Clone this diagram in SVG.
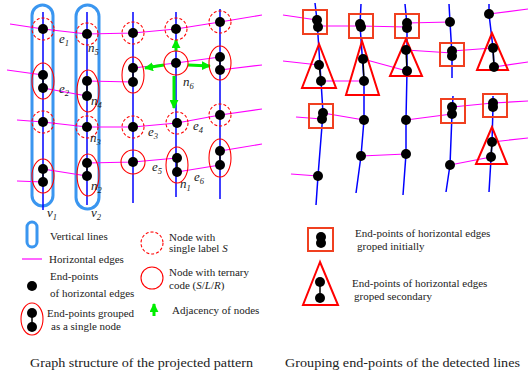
<svg xmlns="http://www.w3.org/2000/svg" width="528" height="373" viewBox="0 0 528 373">
<defs>
<style>
.vl{stroke:#0000ff;stroke-width:1.5;fill:none}
.cap{stroke:#3a96f0;stroke-width:3;fill:none}
.he{stroke:#ff00ff;stroke-width:1.2;fill:none}
.dot{fill:#000}
.lk{stroke:#000;stroke-width:1.5}
.ds{stroke:#ff0000;stroke-width:1.1;fill:none;stroke-dasharray:3,2}
.so{stroke:#ff0000;stroke-width:1.1;fill:none}
.sq{stroke:#f04020;stroke-width:2;fill:none}
.tr{stroke:#ff0000;stroke-width:2;fill:none}
.ga{stroke:#00ee00;stroke-width:3;fill:none}
.lb{font-family:"Liberation Serif",serif;font-style:italic;font-size:13px;fill:#222}
.sb{font-size:8.5px}
.tx{font-family:"Liberation Serif",serif;font-size:11px;fill:#222}
.cp{font-family:"Liberation Serif",serif;font-size:13px;fill:#222}
</style>
<marker id="ah" viewBox="0 0 10 10" refX="9" refY="5" markerWidth="3" markerHeight="3" orient="auto" markerUnits="strokeWidth">
<path d="M0,0 L10,5 L0,10 z" fill="#00ee00"/>
</marker>
</defs>

<!-- Left panel -->
<g id="vertical-lines">
<rect class="cap" x="32" y="5" width="21" height="201" rx="10.5"/>
<rect class="cap" x="76" y="5" width="23" height="204" rx="11.5"/>
<line class="vl" x1="43" y1="12" x2="43" y2="210"/>
<line class="vl" x1="87" y1="12" x2="87" y2="205"/>
<line class="vl" x1="133" y1="12" x2="133" y2="203"/>
<line class="vl" x1="176" y1="12" x2="176" y2="197"/>
<line class="vl" x1="220" y1="9" x2="220" y2="199"/>
</g>

<g id="connectors">
<polyline class="he" points="10,24 43,29 87,34 133,33 176,29 220,22 262,15"/>
<line class="he" x1="7" y1="70" x2="43" y2="75"/>
<line class="he" x1="43" y1="88" x2="87" y2="96"/>
<line class="he" x1="87" y1="81" x2="133" y2="82"/>
<polyline class="he" points="133,68 176,63 220,57"/>
<line class="he" x1="220" y1="70" x2="262" y2="65"/>
<polyline class="he" points="17,120 43,122 87,127 133,127 177,123 220,115 262,109"/>
<line class="he" x1="17" y1="181" x2="43" y2="182"/>
<line class="he" x1="43" y1="169" x2="87" y2="176"/>
<polyline class="he" points="87,163 133,162 177,158"/>
<line class="he" x1="177" y1="172" x2="220" y2="165"/>
<line class="he" x1="220" y1="151" x2="262" y2="144"/>
<line class="ga" x1="176" y1="51" x2="176" y2="40" marker-end="url(#ah)"/>
<line class="ga" x1="164" y1="65" x2="145" y2="68" marker-end="url(#ah)"/>
<line class="ga" x1="188" y1="65" x2="210" y2="66" marker-end="url(#ah)"/>
<line class="ga" x1="174" y1="76" x2="174" y2="108" marker-end="url(#ah)"/>
</g>

<g id="node-c1r1"><circle class="ds" cx="43" cy="29" r="11"/><circle class="dot" cx="43" cy="29" r="5"/></g>
<g id="node-c1r2"><ellipse class="so" cx="43" cy="81" rx="11" ry="18"/><line class="lk" x1="43" y1="75" x2="43" y2="88"/><circle class="dot" cx="43" cy="75" r="5"/><circle class="dot" cx="43" cy="88" r="5"/></g>
<g id="node-c1r3"><circle class="ds" cx="43" cy="122" r="11"/><circle class="dot" cx="43" cy="122" r="5"/></g>
<g id="node-c1r4"><ellipse class="so" cx="43" cy="176" rx="11" ry="17"/><line class="lk" x1="43" y1="169" x2="43" y2="182"/><circle class="dot" cx="43" cy="169" r="5"/><circle class="dot" cx="43" cy="182" r="5"/></g>

<g id="node-n5"><circle class="ds" cx="87" cy="34" r="11"/><circle class="dot" cx="87" cy="34" r="5"/></g>
<g id="node-n4"><ellipse class="so" cx="88" cy="91" rx="11" ry="21"/><line class="lk" x1="87" y1="81" x2="87" y2="96"/><circle class="dot" cx="87" cy="81" r="5"/><circle class="dot" cx="87" cy="96" r="5"/></g>
<g id="node-n3"><circle class="ds" cx="87" cy="127" r="11"/><circle class="dot" cx="87" cy="127" r="5"/></g>
<g id="node-n2"><ellipse class="so" cx="88" cy="175" rx="11" ry="21"/><line class="lk" x1="87" y1="163" x2="87" y2="176"/><circle class="dot" cx="87" cy="163" r="5"/><circle class="dot" cx="87" cy="176" r="5"/></g>

<g id="node-c3r1"><circle class="ds" cx="133" cy="33" r="11"/><circle class="dot" cx="133" cy="33" r="5"/></g>
<g id="node-c3r2"><ellipse class="so" cx="133" cy="75" rx="11" ry="18"/><line class="lk" x1="133" y1="68" x2="133" y2="82"/><circle class="dot" cx="133" cy="68" r="5"/><circle class="dot" cx="133" cy="82" r="5"/></g>
<g id="node-c3r3"><circle class="ds" cx="133" cy="127" r="11"/><circle class="dot" cx="133" cy="127" r="5"/></g>
<g id="node-c3r4"><circle class="so" cx="133" cy="162" r="12"/><circle class="dot" cx="133" cy="162" r="5"/></g>

<g id="node-c4r1"><circle class="ds" cx="176" cy="29" r="11"/><circle class="dot" cx="176" cy="29" r="5"/></g>
<g id="node-n6"><circle class="so" cx="176" cy="63" r="12"/><circle class="dot" cx="176" cy="63" r="5"/></g>
<g id="node-c4r3"><circle class="ds" cx="177" cy="123" r="11"/><circle class="dot" cx="177" cy="123" r="5"/></g>
<g id="node-n1"><ellipse class="so" cx="177" cy="165" rx="11" ry="18"/><line class="lk" x1="177" y1="158" x2="177" y2="172"/><circle class="dot" cx="177" cy="158" r="5"/><circle class="dot" cx="177" cy="172" r="5"/></g>

<g id="node-c5r1"><circle class="ds" cx="220" cy="22" r="11"/><circle class="dot" cx="220" cy="22" r="5"/></g>
<g id="node-c5r2"><ellipse class="so" cx="220" cy="63" rx="11" ry="17"/><line class="lk" x1="220" y1="57" x2="220" y2="70"/><circle class="dot" cx="220" cy="57" r="5"/><circle class="dot" cx="220" cy="70" r="5"/></g>
<g id="node-c5r3"><circle class="ds" cx="220" cy="115" r="11"/><circle class="dot" cx="220" cy="115" r="5"/></g>
<g id="node-c5r4"><ellipse class="so" cx="220" cy="158" rx="11" ry="19"/><line class="lk" x1="220" y1="151" x2="220" y2="165"/><circle class="dot" cx="220" cy="151" r="5"/><circle class="dot" cx="220" cy="165" r="5"/></g>

<g id="labels">
<text class="lb" x="59" y="43">e<tspan class="sb" dy="3">1</tspan></text>
<text class="lb" x="88" y="52">n<tspan class="sb" dy="3">5</tspan></text>
<text class="lb" x="59" y="93">e<tspan class="sb" dy="3">2</tspan></text>
<text class="lb" x="91" y="105">n<tspan class="sb" dy="3">4</tspan></text>
<text class="lb" x="90" y="142">n<tspan class="sb" dy="3">3</tspan></text>
<text class="lb" x="91" y="190">n<tspan class="sb" dy="3">2</tspan></text>
<text class="lb" x="148" y="136">e<tspan class="sb" dy="3">3</tspan></text>
<text class="lb" x="193" y="130">e<tspan class="sb" dy="3">4</tspan></text>
<text class="lb" x="152" y="171">e<tspan class="sb" dy="3">5</tspan></text>
<text class="lb" x="180" y="188">n<tspan class="sb" dy="3">1</tspan></text>
<text class="lb" x="194" y="181">e<tspan class="sb" dy="3">6</tspan></text>
<text class="lb" x="183" y="86">n<tspan class="sb" dy="3">6</tspan></text>
<text class="lb" x="47" y="217">v<tspan class="sb" dy="3">1</tspan></text>
<text class="lb" x="91" y="217">v<tspan class="sb" dy="3">2</tspan></text>
</g>

<!-- Left legend -->
<g id="legend-left">
<rect class="cap" x="27" y="222" width="10" height="25" rx="5" stroke-width="2.5"/>
<text class="tx" x="50" y="240">Vertical lines</text>
<line class="he" x1="22" y1="259" x2="42" y2="259"/>
<text class="tx" x="49" y="263">Horizontal edges</text>
<circle class="dot" cx="32" cy="286" r="5"/>
<text class="tx" x="50" y="280">End-points</text>
<text class="tx" x="50" y="297">of horizontal edges</text>
<ellipse class="so" cx="32" cy="319" rx="11" ry="16"/>
<line class="lk" x1="32" y1="313" x2="32" y2="327"/>
<circle class="dot" cx="32" cy="313" r="5"/>
<circle class="dot" cx="32" cy="327" r="5"/>
<text class="tx" x="47" y="317">End-points grouped</text>
<text class="tx" x="51" y="330">as a single node</text>
<circle class="ds" cx="152" cy="243" r="11"/>
<text class="tx" x="169" y="241">Node with</text>
<text class="tx" x="169" y="252">single label <tspan font-style="italic">S</tspan></text>
<circle class="so" cx="152" cy="278" r="11"/>
<text class="tx" x="169" y="276">Node with ternary</text>
<text class="tx" x="169" y="289">code (<tspan font-style="italic">S</tspan>/<tspan font-style="italic">L</tspan>/<tspan font-style="italic">R</tspan>)</text>
<line class="ga" x1="154" y1="316" x2="154" y2="304" marker-end="url(#ah)"/>
<text class="tx" x="172" y="314">Adjacency of nodes</text>
</g>

<!-- Right panel -->
<g id="detected-lines">
<polyline class="vl" points="315,3 317,20 321,81 323,113 318,176 316,205"/>
<polyline class="vl" points="361,4 360,25 364,81 364,120 361,156 356,193"/>
<polyline class="vl" points="405,4 407,25 407,71 406,120 406,154 403,195"/>
<polyline class="vl" points="449,4 450,22 452,55 452,78"/>
<polyline class="vl" points="453,96 452,114 450,165 446,192"/>
<polyline class="vl" points="489,4 489,14 493,48 494,67"/>
<polyline class="vl" points="493,96 493,107 492,142 489,192"/>
</g>
<g id="detected-edges">
<line class="he" x1="283" y1="15" x2="317" y2="20"/>
<polyline class="he" points="318,26 360,26 407,27"/>
<line class="he" x1="407" y1="23" x2="450" y2="22"/>
<line class="he" x1="489" y1="14" x2="528" y2="9"/>
<line class="he" x1="283" y1="61" x2="319" y2="65"/>
<line class="he" x1="321" y1="81" x2="364" y2="81"/>
<line class="he" x1="363" y1="59" x2="407" y2="71"/>
<line class="he" x1="406" y1="50" x2="452" y2="53"/>
<line class="he" x1="452" y1="51" x2="493" y2="48"/>
<line class="he" x1="494" y1="67" x2="528" y2="62"/>
<line class="he" x1="296" y1="117" x2="322" y2="119"/>
<line class="he" x1="323" y1="113" x2="364" y2="120"/>
<line class="he" x1="406" y1="120" x2="452" y2="114"/>
<polyline class="he" points="452,107 493,103 528,101"/>
<line class="he" x1="361" y1="156" x2="406" y2="154"/>
<line class="he" x1="291" y1="174" x2="318" y2="176"/>
<line class="he" x1="450" y1="165" x2="491" y2="157"/>
<line class="he" x1="492" y1="142" x2="528" y2="138"/>
</g>

<g id="group-s1"><rect class="sq" x="303" y="10" width="24" height="24"/><circle class="dot" cx="317" cy="20" r="5"/><circle class="dot" cx="318" cy="27" r="5"/></g>
<g id="group-s2"><rect class="sq" x="349" y="14" width="24" height="24"/><circle class="dot" cx="360" cy="24" r="5"/><circle class="dot" cx="361" cy="27" r="5"/></g>
<g id="group-s3"><rect class="sq" x="395" y="14" width="24" height="24"/><circle class="dot" cx="407" cy="23" r="5"/><circle class="dot" cx="407" cy="28" r="5"/></g>
<g id="group-s4"><rect class="sq" x="440" y="43" width="24" height="23"/><circle class="dot" cx="452" cy="51" r="5"/><circle class="dot" cx="452" cy="56" r="5"/></g>
<g id="group-s5"><rect class="sq" x="309" y="104" width="24" height="24"/><circle class="dot" cx="323" cy="113" r="5"/><circle class="dot" cx="322" cy="119" r="5"/></g>
<g id="group-s6"><rect class="sq" x="441" y="99" width="24" height="24"/><circle class="dot" cx="452" cy="107" r="5"/><circle class="dot" cx="452" cy="114" r="5"/></g>
<g id="group-s7"><rect class="sq" x="483" y="94" width="24" height="23"/><circle class="dot" cx="493" cy="103" r="5"/><circle class="dot" cx="493" cy="107" r="5"/></g>

<g id="group-t1"><polygon class="tr" points="319,44 302,88 336,88"/><line class="lk" x1="319" y1="65" x2="321" y2="81"/><circle class="dot" cx="319" cy="65" r="5"/><circle class="dot" cx="321" cy="81" r="5"/></g>
<g id="group-t2"><polygon class="tr" points="362,41 346,95 379,95"/><line class="lk" x1="363" y1="59" x2="364" y2="81"/><circle class="dot" cx="363" cy="59" r="5"/><circle class="dot" cx="364" cy="81" r="5"/></g>
<g id="group-t3"><polygon class="tr" points="406,39 390,76 422,76"/><line class="lk" x1="406" y1="50" x2="407" y2="71"/><circle class="dot" cx="406" cy="50" r="5"/><circle class="dot" cx="407" cy="71" r="5"/></g>
<g id="group-t4"><polygon class="tr" points="492,33 477,70 508,70"/><line class="lk" x1="493" y1="48" x2="494" y2="67"/><circle class="dot" cx="493" cy="48" r="5"/><circle class="dot" cx="494" cy="67" r="5"/></g>
<g id="group-t5"><polygon class="tr" points="492,127 476,164 507,164"/><line class="lk" x1="492" y1="142" x2="491" y2="157"/><circle class="dot" cx="492" cy="142" r="5"/><circle class="dot" cx="491" cy="157" r="5"/></g>

<g id="single-points">
<circle class="dot" cx="450" cy="22" r="5"/>
<circle class="dot" cx="489" cy="14" r="5"/>
<circle class="dot" cx="364" cy="120" r="5"/>
<circle class="dot" cx="361" cy="156" r="5"/>
<circle class="dot" cx="406" cy="120" r="5"/>
<circle class="dot" cx="406" cy="154" r="5"/>
<circle class="dot" cx="318" cy="176" r="5"/>
<circle class="dot" cx="450" cy="165" r="5"/>
</g>

<!-- Right legend -->
<g id="legend-right">
<rect class="sq" x="308" y="228" width="25" height="23"/>
<circle class="dot" cx="321" cy="237" r="5"/>
<circle class="dot" cx="321" cy="243" r="5"/>
<text class="tx" x="355" y="237">End-points of horizontal edges</text>
<text class="tx" x="357" y="250">groped initially</text>
<polygon class="tr" points="320,262 303,305 338,305"/>
<line class="lk" x1="320" y1="282" x2="320" y2="298"/>
<circle class="dot" cx="320" cy="282" r="5"/>
<circle class="dot" cx="320" cy="298" r="5"/>
<text class="tx" x="352" y="287">End-points of horizontal edges</text>
<text class="tx" x="354" y="300">groped secondary</text>
</g>

<g id="captions">
<text class="cp" x="30" y="367" textLength="223" lengthAdjust="spacingAndGlyphs">Graph structure of the projected pattern</text>
<text class="cp" x="285" y="367" textLength="235" lengthAdjust="spacingAndGlyphs">Grouping end-points of the detected lines</text>
</g>
</svg>
